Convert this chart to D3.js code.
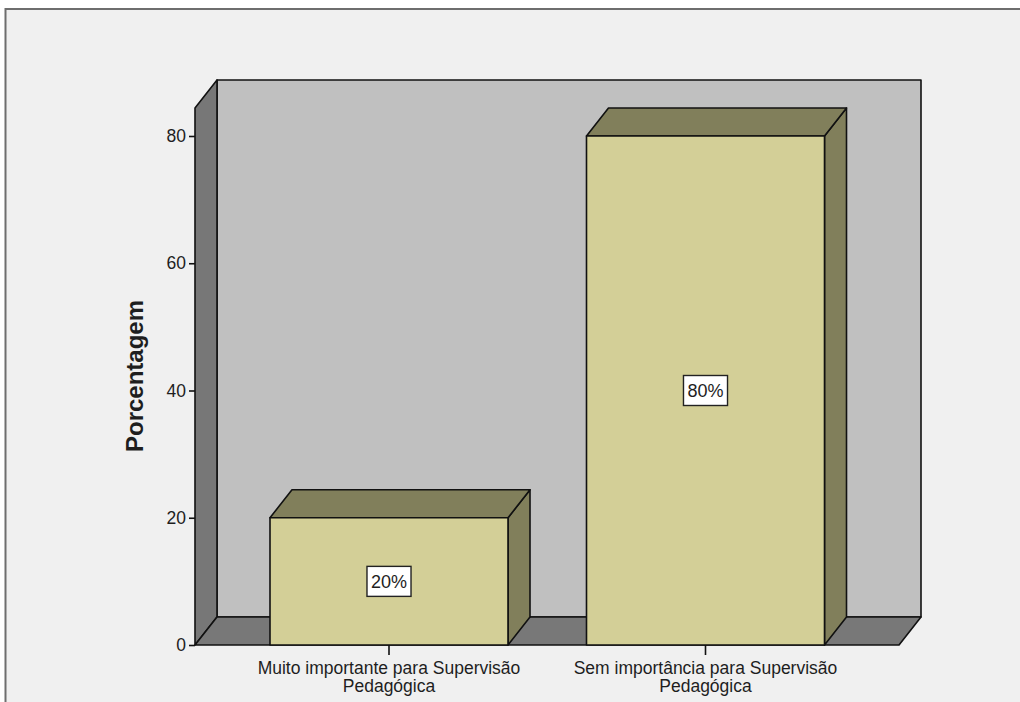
<!DOCTYPE html>
<html>
<head>
<meta charset="utf-8">
<script src="https://cdn.jsdelivr.net/npm/d3@7/dist/d3.min.js"></script>
<style>
  html, body { margin: 0; padding: 0; background: #ffffff; }
  svg { display: block; }
  text { font-family: "Liberation Sans", Arial, sans-serif; fill: #1e1e1e; }
</style>
</head>
<body>
<svg id="chart" width="1020" height="702"></svg>
<script>
// Response categories (each label split into two lines)
const categories = ["Muito importante para Supervisão Pedagógica", "Sem importância para Supervisão Pedagógica"];
const categoryLines = [["Muito importante para Supervisão", "Pedagógica"], ["Sem importância para Supervisão", "Pedagógica"]];
// Percentage of respondents per category
const percentages = [20, 80];
// Y axis ticks
const yTicks = [0, 20, 40, 60, 80];

(function () {
  const W = 1020, H = 702;
  const svg = d3.select("#chart");

  // Panel frame
  svg.append("rect").attr("x", 0).attr("y", 0).attr("width", W).attr("height", H).attr("fill", "#ffffff");
  svg.append("rect").attr("x", 5.5).attr("y", 9).attr("width", W + 10).attr("height", H + 10)
    .attr("fill", "#f0f0f0").attr("stroke", "#6e6e6e").attr("stroke-width", 2);

  // Plot geometry (front plane) and 3D depth offset
  const pLeft = 195, pRight = 899, pBottom = 645, pTop = 108;
  const dx = 22, dy = -28;

  const y = d3.scaleLinear().domain([0, 84.4]).range([pBottom, pTop]);
  const x = d3.scaleBand().domain(categories).range([230.75, 863.75])
    .paddingInner(0.248).paddingOuter(0.124);

  const poly = pts => "M" + pts.map(p => p.join(",")).join("L") + "Z";
  function styled(sel, fill) {
    return sel.attr("fill", fill).attr("stroke", "#111").attr("stroke-width", 1.6)
      .attr("stroke-linejoin", "round");
  }

  // Back wall
  styled(svg.append("path").attr("d", poly([
    [pLeft + dx, y(0) + dy], [pLeft + dx, pTop + dy], [pRight + dx, pTop + dy], [pRight + dx, y(0) + dy]
  ])), "#c0c0c0");
  // Left wall
  styled(svg.append("path").attr("d", poly([
    [pLeft, y(0)], [pLeft, pTop], [pLeft + dx, pTop + dy], [pLeft + dx, y(0) + dy]
  ])), "#777777");
  // Floor
  styled(svg.append("path").attr("d", poly([
    [pLeft, y(0)], [pLeft + dx, y(0) + dy], [pRight + dx, y(0) + dy], [pRight, y(0)]
  ])), "#787878");

  // Bars: side, top and front faces
  const bw = x.bandwidth();
  const bars = svg.append("g").selectAll("g").data(categories).join("g");
  bars.each(function (c, i) {
    const g = d3.select(this);
    const x0 = x(c), x1 = x(c) + bw, yv = y(percentages[i]), y0 = y(0);
    styled(g.append("path").attr("d", poly([
      [x1, yv], [x1 + dx, yv + dy], [x1 + dx, y0 + dy], [x1, y0]
    ])), "#817f5b");
    styled(g.append("path").attr("d", poly([
      [x0, yv], [x0 + dx, yv + dy], [x1 + dx, yv + dy], [x1, yv]
    ])), "#817f5b");
    styled(g.append("path").attr("d", poly([
      [x0, yv], [x1, yv], [x1, y0], [x0, y0]
    ])), "#d3cf97");

    // Value label box
    const cx = x0 + bw / 2, cy = (yv + y0) / 2;
    const lbl = g.append("g").attr("transform", `translate(${cx},${cy})`);
    const t = lbl.append("text").attr("text-anchor", "middle").attr("dy", "0.36em")
      .attr("font-size", 18).text(percentages[i] + "%");
    const bb = t.node().getBBox();
    lbl.insert("rect", "text").attr("x", -bb.width / 2 - 4).attr("y", -15)
      .attr("width", bb.width + 8).attr("height", 30)
      .attr("fill", "#ffffff").attr("stroke", "#222").attr("stroke-width", 1.4);
  });

  // Y axis
  const yAxis = d3.axisLeft(y).tickValues(yTicks).tickSize(6).tickPadding(3);
  const ya = svg.append("g").attr("transform", `translate(${pLeft},0)`).call(yAxis);
  ya.select(".domain").remove();
  ya.selectAll(".tick line").attr("stroke", "#111").attr("stroke-width", 1.6);
  ya.selectAll(".tick text").attr("font-size", 17.5)
    .attr("font-family", "Liberation Sans, Arial, sans-serif").attr("fill", "#1e1e1e");

  // X axis: category ticks and two-line labels
  const xa = svg.append("g");
  categories.forEach((c, i) => {
    const cx = x(c) + bw / 2;
    xa.append("line").attr("x1", cx).attr("x2", cx).attr("y1", pBottom).attr("y2", pBottom + 10)
      .attr("stroke", "#111").attr("stroke-width", 1.6);
    categoryLines[i].forEach((line, k) => {
      xa.append("text").attr("text-anchor", "middle").attr("font-size", 17.5)
        .attr("x", cx).attr("y", 674 + k * 18).text(line);
    });
  });

  // Y axis title
  svg.append("text").attr("transform", "translate(143,376) rotate(-90)")
    .attr("text-anchor", "middle").attr("font-size", 24).attr("font-weight", "bold")
    .text("Porcentagem");
})();
</script>
</body>
</html>
